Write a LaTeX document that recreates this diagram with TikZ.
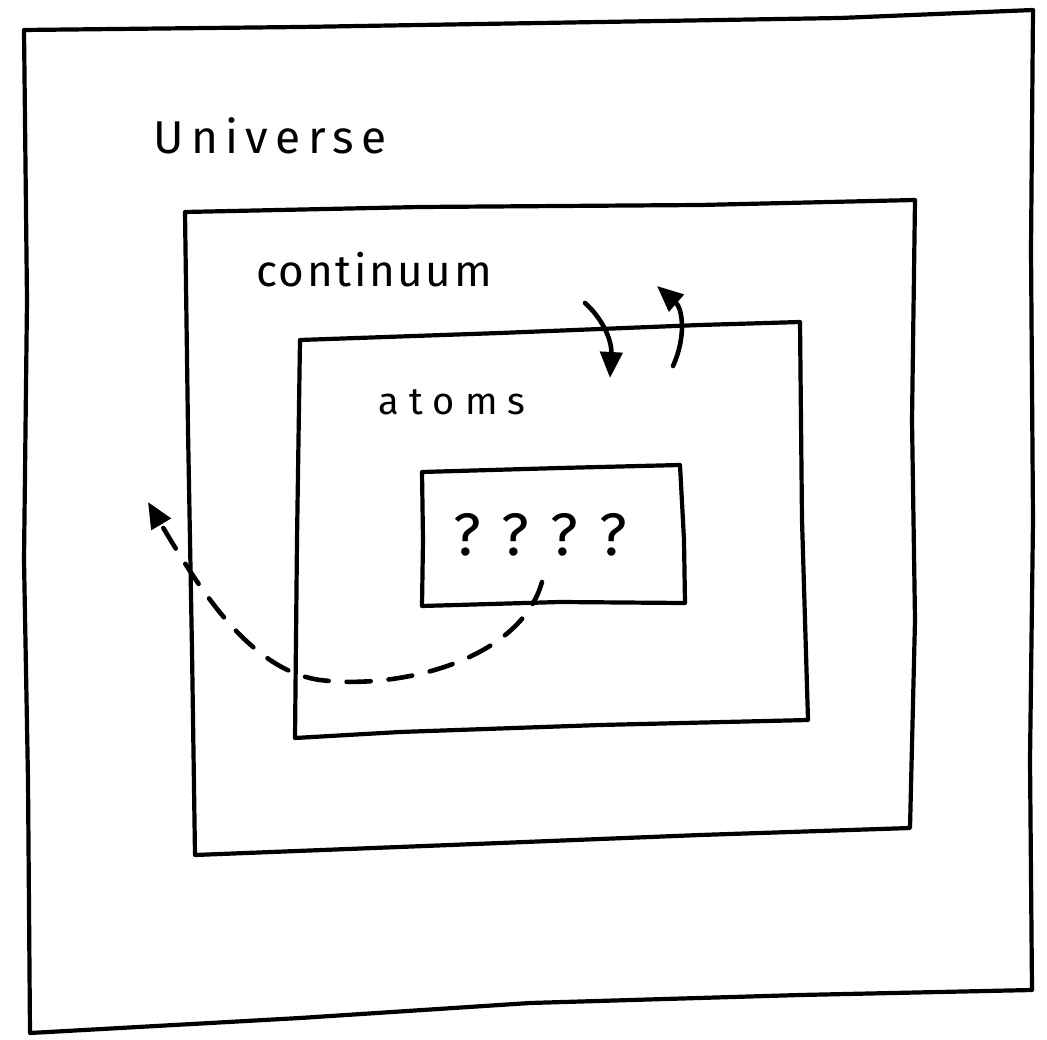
\documentclass[tikz,border=0pt]{standalone}
\usepackage{fontspec}
\setmainfont{Fira Sans}
\usetikzlibrary{arrows.meta}
\tikzset{
  sketch/.style={line width=4.2pt, line join=round, line cap=round},
  lbl/.style={inner sep=0pt},
  arr/.style={sketch, line width=4.6pt, -{Triangle[length=26pt,width=22pt]}},
}
\begin{document}
\begin{tikzpicture}[x=1pt,y=-1pt]
\useasboundingbox (0,0) rectangle (1047,1040);
% Universe
\draw[sketch] (24,30) -- (300,27) -- (600,22) -- (840,18) -- (1033,10)
  -- (1031,250) -- (1033,520) -- (1030,760) -- (1032,990)
  -- (800,995) -- (530,1003) -- (300,1018) -- (30,1033)
  -- (28,780) -- (24,560) -- (27,300) -- cycle;
% Continuum
\draw[sketch] (185,212) -- (420,207) -- (700,205) -- (915,200)
  -- (912,420) -- (915,620) -- (910,828)
  -- (700,835) -- (450,845) -- (195,855)
  -- (192,650) -- (188,430) -- cycle;
% Atoms
\draw[sketch] (300,340) -- (500,333) -- (700,325) -- (800,322)
  -- (802,520) -- (808,720)
  -- (600,725) -- (400,732) -- (295,738)
  -- (297,540) -- cycle;
% ???? box
\draw[sketch] (422,472) -- (560,468) -- (680,465)
  -- (684,540) -- (685,603)
  -- (560,602) -- (422,606) -- (423,540) -- cycle;
% labels
\node[lbl, font={\fontsize{46}{50}\selectfont\addfontfeature{LetterSpace=16}}] (universe) at (270,136) {Universe};
\node[lbl, font={\fontsize{44}{50}\selectfont\addfontfeature{LetterSpace=6}}] (continuum) at (374,270) {continuum};
\node[lbl, font={\fontsize{38}{44}\selectfont}] (atoms) at (452,402) {a t o m s};
\node[lbl, font={\fontsize{60}{66}\selectfont}] (q) at (540,535) {? ? ? ?};
% arrow coordinates
\coordinate (d0) at (585,303);
\coordinate (d1) at (610,378);
\coordinate (u0) at (673,366);
\coordinate (u1) at (657,286);
\coordinate (s0) at (542,582);
\coordinate (s1) at (148,502);
\draw[arr] (d0) .. controls (602,318) and (612,340) .. (d1);
\draw[arr] (u0) .. controls (687,335) and (682,308) .. (u1);
\draw[arr, dash pattern=on 24pt off 18pt]
  (s0) .. controls (520,660) and (400,690) .. (320,680)
  .. controls (250,670) and (200,590) .. (s1);
\end{tikzpicture}
\end{document}
